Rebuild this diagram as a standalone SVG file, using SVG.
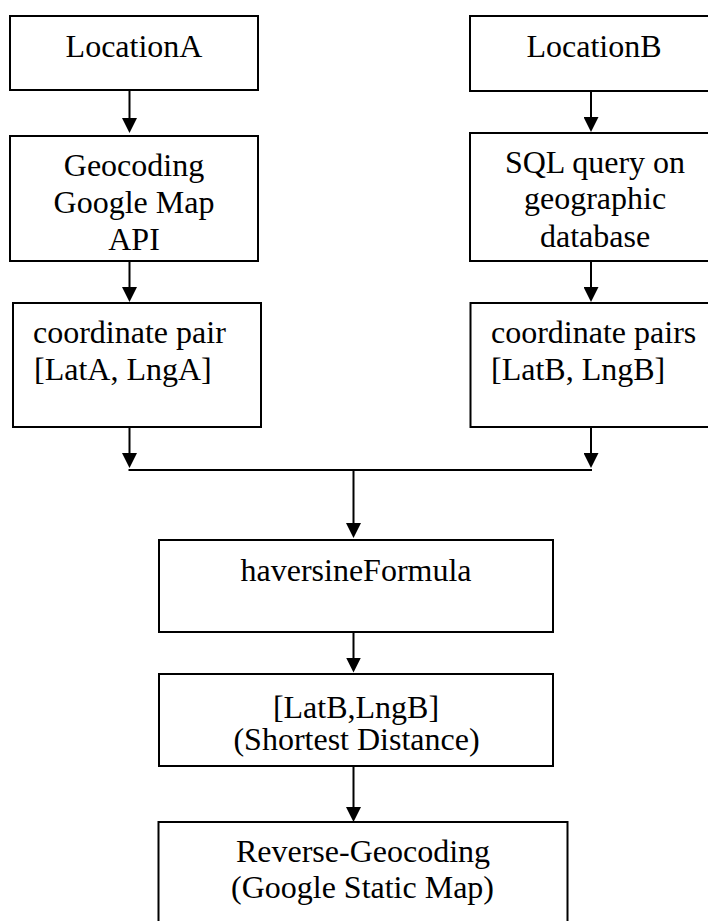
<svg xmlns="http://www.w3.org/2000/svg" width="708" height="921" viewBox="0 0 708 921">
  <style>
    .box { fill: #ffffff; stroke: #000000; stroke-width: 2; }
    .lbl { font-family: "Liberation Serif", "Times New Roman", serif; font-size: 32px; fill: #000000; }
    .mid { text-anchor: middle; }
    .wire { fill: none; stroke: #000000; stroke-width: 2; }
  </style>
  <defs>
    <marker id="head" markerUnits="userSpaceOnUse" markerWidth="15" markerHeight="15" viewBox="0 0 15 15" refX="5" refY="7.5" orient="auto">
      <path d="M0,0 L15,7.5 L0,15 z" fill="#000000"/>
    </marker>
  </defs>
  <rect width="708" height="921" fill="#ffffff"/>

  <g id="locationA">
    <rect class="box" x="10" y="16" width="248" height="74"/>
    <text class="lbl mid" x="134" y="57">LocationA</text>
  </g>
  <g id="geocoding">
    <rect class="box" x="10" y="136" width="248" height="125"/>
    <text class="lbl mid" x="134" y="176">Geocoding</text>
    <text class="lbl mid" x="134" y="213">Google Map</text>
    <text class="lbl mid" x="134" y="250">API</text>
  </g>
  <g id="coordA">
    <rect class="box" x="13" y="303" width="248" height="124"/>
    <text class="lbl" x="33" y="343">coordinate pair</text>
    <text class="lbl" x="34" y="380">[LatA, LngA]</text>
  </g>

  <g id="locationB">
    <rect class="box" x="470" y="16" width="250" height="75"/>
    <text class="lbl mid" x="594" y="57">LocationB</text>
  </g>
  <g id="sqlQuery">
    <rect class="box" x="470" y="133" width="250" height="128"/>
    <text class="lbl mid" x="595" y="173">SQL query on</text>
    <text class="lbl mid" x="595" y="209">geographic</text>
    <text class="lbl mid" x="595" y="247">database</text>
  </g>
  <g id="coordB">
    <rect class="box" x="470.5" y="303" width="250" height="124"/>
    <text class="lbl" x="491" y="343">coordinate pairs</text>
    <text class="lbl" x="491" y="380">[LatB, LngB]</text>
  </g>

  <g id="haversine">
    <rect class="box" x="159" y="540" width="394" height="92"/>
    <text class="lbl mid" x="356" y="581">haversineFormula</text>
  </g>
  <g id="shortest">
    <rect class="box" x="159" y="674" width="394" height="92"/>
    <text class="lbl mid" x="356" y="718">[LatB,LngB]</text>
    <text class="lbl mid" x="356.5" y="750">(Shortest Distance)</text>
  </g>
  <g id="reverseGeocoding">
    <rect class="box" x="158.5" y="822" width="409" height="120"/>
    <text class="lbl mid" x="363" y="862">Reverse-Geocoding</text>
    <text class="lbl mid" x="362.5" y="898">(Google Static Map)</text>
  </g>

  <g id="connectors">
    <path class="wire" d="M129.5,90 V123" marker-end="url(#head)"/>
    <path class="wire" d="M129.5,261 V292" marker-end="url(#head)"/>
    <path class="wire" d="M591,91 V122" marker-end="url(#head)"/>
    <path class="wire" d="M591,261 V292" marker-end="url(#head)"/>
    <path class="wire" d="M129.5,427 V458" marker-end="url(#head)"/>
    <path class="wire" d="M591,427 V458" marker-end="url(#head)"/>
    <path class="wire" d="M128.5,470 H592"/>
    <path class="wire" d="M353.5,470 V528" marker-end="url(#head)"/>
    <path class="wire" d="M353.5,632 V662.5" marker-end="url(#head)"/>
    <path class="wire" d="M353.5,766 V812" marker-end="url(#head)"/>
  </g>
</svg>
